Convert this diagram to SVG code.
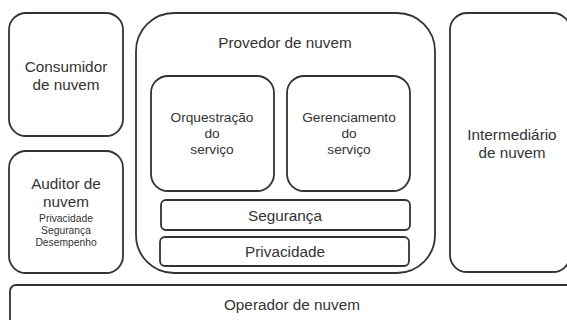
<svg xmlns="http://www.w3.org/2000/svg" width="567" height="320" viewBox="0 0 567 320">
<style>
.b{fill:#fff;stroke:#333;stroke-width:1.8}
text{font-family:"Liberation Sans",Arial,sans-serif;fill:#333;text-anchor:middle}
.l{font-size:15.3px}
.m{font-size:13.7px}
.s{font-size:10.3px}
</style>
<rect width="567" height="320" fill="#fff"/>
<g id="operador">
<rect class="b" x="10" y="285" width="570" height="50" rx="6"/>
<text class="l" x="292" y="310">Operador de nuvem</text>
</g>
<g id="consumidor">
<rect class="b" x="9" y="13" width="114" height="123" rx="17"/>
<text class="l" x="66" y="72">Consumidor</text>
<text class="l" x="66" y="90">de nuvem</text>
</g>
<g id="auditor">
<rect class="b" x="9" y="151" width="114" height="122" rx="17"/>
<text class="l" x="66" y="189">Auditor de</text>
<text class="l" x="66" y="207">nuvem</text>
<text class="s" x="66" y="222">Privacidade</text>
<text class="s" x="66" y="234">Segurança</text>
<text class="s" x="66" y="246">Desempenho</text>
</g>
<g id="provedor">
<rect class="b" x="136" y="13" width="299" height="260" rx="38"/>
<text class="l" x="285" y="48">Provedor de nuvem</text>
</g>
<g id="orquestracao">
<rect class="b" x="151" y="76" width="123" height="115" rx="17"/>
<text class="m" x="212" y="122">Orquestração</text>
<text class="m" x="212" y="138">do</text>
<text class="m" x="212" y="154">serviço</text>
</g>
<g id="gerenciamento">
<rect class="b" x="287" y="76" width="123" height="115" rx="17"/>
<text class="m" x="349" y="122">Gerenciamento</text>
<text class="m" x="349" y="138">do</text>
<text class="m" x="349" y="154">serviço</text>
</g>
<g id="seguranca">
<rect class="b" x="161" y="200" width="249" height="30" rx="5"/>
<text class="l" x="285" y="221">Segurança</text>
</g>
<g id="privacidade">
<rect class="b" x="160" y="237" width="249" height="29" rx="5"/>
<text class="l" x="285" y="257">Privacidade</text>
</g>
<g id="intermediario">
<rect class="b" x="450" y="13" width="120" height="259" rx="17"/>
<text class="l" x="512" y="140">Intermediário</text>
<text class="l" x="512" y="158">de nuvem</text>
</g>
<g id="connectors"></g>
</svg>
